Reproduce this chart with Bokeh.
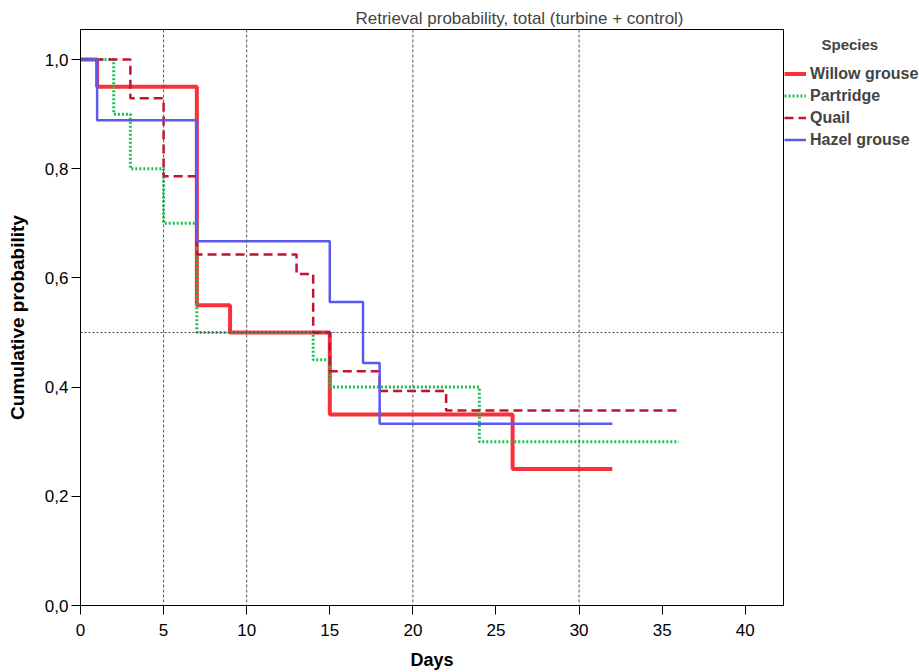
from bokeh.plotting import figure
from bokeh.models import Legend, LegendItem, Span, FixedTicker, Range1d
from bokeh.embed import file_html
from bokeh.resources import INLINE

# ---- data (Kaplan-Meier style step curves) ----
willow_days = [0, 1, 7, 9, 15, 26, 32]
willow_prob = [1.0, 0.95, 0.55, 0.50, 0.35, 0.25, 0.25]

partridge_days = [0, 2, 3, 5, 7, 14, 15, 24, 36]
partridge_prob = [1.0, 0.90, 0.80, 0.70, 0.50, 0.45, 0.40, 0.30, 0.30]

quail_days = [0, 3, 5, 7, 13, 14, 15, 18, 22, 36]
quail_prob = [1.0, 0.929, 0.786, 0.643, 0.607, 0.50, 0.429, 0.393, 0.357, 0.357]

hazel_days = [0, 1, 7, 15, 17, 18, 32]
hazel_prob = [1.0, 0.889, 0.667, 0.556, 0.444, 0.333, 0.333]

species = ["Willow grouse", "Partridge", "Quail", "Hazel grouse"]

x_ticks = [0, 5, 10, 15, 20, 25, 30, 35, 40]
y_ticks = [0.0, 0.2, 0.4, 0.6, 0.8, 1.0]
y_tick_labels = ["0,0", "0,2", "0,4", "0,6", "0,8", "1,0"]

ref_days = [5, 10, 20, 30]
ref_prob = 0.5

FONT = "Liberation Sans"

p = figure(frame_width=703, frame_height=576,
           x_range=Range1d(0, 42.3), y_range=Range1d(0, 1.055),
           output_backend="svg", toolbar_location=None,
           min_border_left=80, min_border_top=29, min_border_bottom=10,
           min_border_right=0,
           title="Retrieval probability, total (turbine + control)")
p.background_fill_color = "white"
p.border_fill_color = "white"
p.outline_line_color = "black"
p.outline_line_width = 1
p.xgrid.visible = False
p.ygrid.visible = False

p.title.text_font = FONT
p.title.text_font_size = "17px"
p.title.text_font_style = "normal"
p.title.align = "left"
p.title.offset = 275
p.title.standoff = 4

for ax in (p.xaxis[0], p.yaxis[0]):
    ax.axis_line_color = "black"
    ax.major_tick_line_color = "black"
    ax.major_tick_out = 9
    ax.major_tick_in = 0
    ax.minor_tick_line_color = None
    ax.major_label_text_font = FONT
    ax.major_label_text_font_size = "17px"
    ax.major_label_text_color = "black"
    ax.axis_label_text_font = FONT
    ax.axis_label_text_font_style = "bold"
    ax.axis_label_text_color = "black"

p.xaxis.axis_label = "Days"
p.xaxis.axis_label_text_font_size = "18px"
p.xaxis.ticker = FixedTicker(ticks=x_ticks)
p.xaxis.major_label_standoff = 9
p.xaxis.axis_label_standoff = 11

p.yaxis.axis_label = "Cumulative probability"
p.yaxis.axis_label_text_font_size = "19px"
p.yaxis.ticker = FixedTicker(ticks=y_ticks)
p.yaxis.major_label_overrides = {t: l for t, l in zip(y_ticks, y_tick_labels)}
p.yaxis.major_label_standoff = 3
p.yaxis.axis_label_standoff = 14

# reference lines
for d in ref_days:
    p.add_layout(Span(location=d, dimension="height", line_color="#555555",
                      line_width=1, line_dash="3 2"))
p.add_layout(Span(location=ref_prob, dimension="width", line_color="#444444",
                  line_width=1, line_dash="2 2"))

r1 = p.step(willow_days, willow_prob, mode="after", line_color="#F8303A", line_width=4)
r2 = p.step(partridge_days, partridge_prob, mode="after", line_color="#1EBE50",
            line_width=3, line_dash="2 2")
r3 = p.step(quail_days, quail_prob, mode="after", line_color="#C41230",
            line_width=2.5, line_dash="9 5")
r4 = p.step(hazel_days, hazel_prob, mode="after", line_color="#5A5AF2", line_width=2.5)

legend = Legend(items=[LegendItem(label=s, renderers=[r]) for s, r in zip(species, [r1, r2, r3, r4])],
                title="\u00a0" * 9 + "Species", location=(1, 455))
legend.title_text_font = FONT
legend.title_text_font_size = "15px"
legend.title_text_font_style = "bold"
legend.label_text_font = FONT
legend.label_text_font_size = "16px"
legend.label_text_font_style = "bold"
legend.border_line_color = None
legend.background_fill_alpha = 0
legend.padding = 1
legend.margin = 1
legend.spacing = 1
legend.glyph_width = 22
legend.glyph_height = 21
legend.label_height = 21
legend.label_standoff = 4
legend.title_standoff = 10
p.add_layout(legend, "right")

open("out.html", "w").write(file_html(p, INLINE))
